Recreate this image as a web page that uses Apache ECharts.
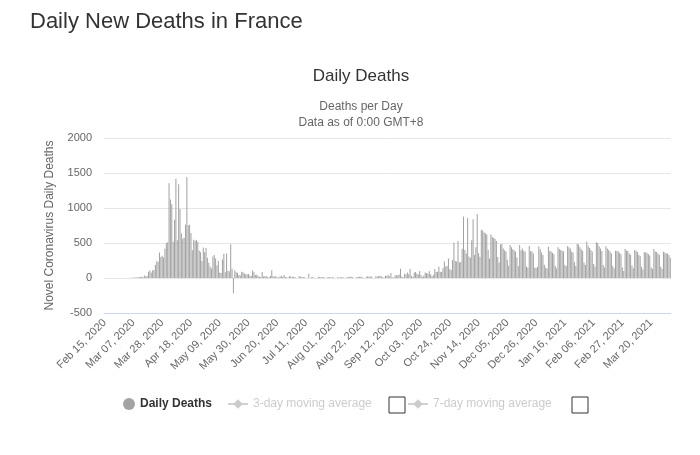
<!DOCTYPE html>
<html lang="en">
<head>
<meta charset="UTF-8">
<title>Daily New Deaths in France</title>
<style>
    html, body {
        margin: 0;
        padding: 0;
        background: #fff;
    }
    #chart {
        width: 700px;
        height: 455px;
    }
</style>
</head>
<body>
<div id="chart"></div>
<script src="https://cdn.jsdelivr.net/npm/echarts@6/dist/echarts.min.js"></script>
<script>
// daily deaths, one array per month (first day: Feb 15, 2020)
var feb2020 = [1, 0, 0, 0, 0, 0, 0, 0, 0, 0, 0, 1, 0, 0, 0];
var mar2020 = [0, 1, 1, 1, 2, 2, 2, 8, 6, 8, 15, 13, 18, 12, 36, 21, 27, 89, 108, 78,
    112, 112, 186, 240, 231, 365, 299, 319, 292, 418, 499];
var apr2020 = [509, 1355, 1120, 1053, 518, 833, 1417, 541, 1341, 987, 635, 561, 574, 762, 1438,
    753, 761, 642, 395, 547, 531, 544, 516, 389, 369, 242, 437, 367, 427, 289];
var may2020 = [218, 166, 135, 306, 330, 278, 178, 243, 80, 70, 263, 348, 83, 351, 104, 96,
    483, 131, -217, 110, 83, 74, 43, 35, 90, 83, 66, 52, 52, 57, 31];
var jun2020 = [31, 107, 81, 44, 46, 27, 13, 18, 87, 23, 28, 24, 13, 10, 29, 111, 28, 14, 28, 8,
    10, 23, 33, 14, 42, 14, 7, 8, 30, 22];
var jul2020 = [14, 18, 16, 0, 0, 27, 13, 18, 14, 11, 0, 0, 60, 0, 12, 15, 5, 0, 0, 19,
    14, 15, 11, 13, 0, 0, 16, 14, 6, 11, 12];
var aug2020 = [0, 0, 11, 7, 9, 10, 12, 0, 0, 13, 10, 17, 17, 12, 0, 0, 12, 17, 17, 19,
    16, 0, 0, 16, 25, 20, 18, 20, 0, 0, 26];
var sep2020 = [20, 25, 31, 25, 12, 8, 33, 30, 45, 20, 70, 10, 8, 35, 40, 38, 50, 133, 20, 12,
    60, 50, 78, 52, 130, 30, 15, 80, 85, 60];
var oct2020 = [50, 100, 42, 16, 36, 80, 70, 62, 100, 54, 25, 42, 130, 85, 90, 165, 90, 85, 140, 234,
    165, 170, 280, 130, 116, 257, 505, 244, 235, 530, 220];
var nov2020 = [231, 418, 877, 400, 350, 858, 306, 290, 540, 838, 330, 440, 915, 354, 302,
    690, 680, 650, 640, 620, 400, 280, 620, 590, 570, 560, 530, 300, 220, 480];
var dec2020 = [486, 420, 395, 378, 262, 174, 470, 440, 412, 398, 375, 292, 168, 470, 398, 420,
    388, 375, 164, 148, 457, 386, 378, 350, 150, 142, 160, 450, 410, 365, 330];
var jan2021 = [190, 150, 135, 445, 390, 380, 360, 340, 170, 140, 440, 415, 400, 390, 380, 190,
    172, 455, 440, 420, 380, 360, 225, 172, 490, 480, 440, 410, 390, 220, 185];
var feb2021 = [523, 460, 430, 400, 380, 200, 165, 510, 500, 455, 420, 385, 185, 150,
    455, 420, 400, 380, 350, 170, 140, 390, 385, 380, 360, 340, 150, 100];
var mar2021 = [415, 390, 385, 350, 330, 180, 140, 400, 390, 370, 330, 310, 160, 120, 370, 365,
    360, 340, 320, 150, 130, 415, 380, 370, 350, 330, 160, 130, 375, 365, 355];
var apr2021 = [350, 330, 290];

var dailyDeaths = [].concat(feb2020, mar2020, apr2020, may2020, jun2020, jul2020, aug2020,
    sep2020, oct2020, nov2020, dec2020, jan2021, feb2021, mar2021, apr2021);

var monthNames = ['Jan', 'Feb', 'Mar', 'Apr', 'May', 'Jun', 'Jul', 'Aug', 'Sep', 'Oct', 'Nov', 'Dec'];
var dates = [];
for (var i = 0; i < dailyDeaths.length; i++) {
    var d = new Date(2020, 1, 15 + i);
    var day = d.getDate() < 10 ? '0' + d.getDate() : '' + d.getDate();
    dates.push(monthNames[d.getMonth()] + ' ' + day + ', ' + d.getFullYear());
}

var hidden = {'3-day moving average': false, '7-day moving average': false};
var font = 'Liberation Sans, Arial, sans-serif';

var myChart = echarts.init(document.getElementById('chart'));
var options = {
    animation: false,
    textStyle: {fontFamily: font},
    title: [{
        text: 'Daily New Deaths in France',
        left: 25,
        top: 6,
        textStyle: {fontSize: 22, fontWeight: 'normal', color: '#333', fontFamily: font}
    }, {
        text: 'Daily Deaths',
        left: 356,
        textAlign: 'center',
        top: 63,
        textStyle: {fontSize: 17, fontWeight: 'normal', color: '#333', fontFamily: font}
    }, {
        text: 'Deaths per Day\nData as of 0:00 GMT+8',
        left: 356,
        textAlign: 'center',
        top: 94,
        textStyle: {fontSize: 12, fontWeight: 'normal', color: '#666', lineHeight: 16, fontFamily: font}
    }],
    legend: [{
        data: ['Daily Deaths'],
        left: 118,
        top: 393,
        icon: 'circle',
        itemWidth: 12,
        itemHeight: 12,
        itemGap: 5,
        selected: hidden,
        textStyle: {fontSize: 12, fontWeight: 'bold', color: '#333'}
    }, {
        data: ['3-day moving average'],
        left: 222,
        top: 393,
        itemWidth: 20,
        itemHeight: 12,
        selected: hidden,
        inactiveColor: '#ccc',
        textStyle: {fontSize: 12}
    }, {
        data: ['7-day moving average'],
        left: 402,
        top: 393,
        itemWidth: 20,
        itemHeight: 12,
        selected: hidden,
        inactiveColor: '#ccc',
        textStyle: {fontSize: 12}
    }],
    graphic: [{
        type: 'rect',
        shape: {x: 389, y: 397, width: 16, height: 16},
        style: {fill: '#fff', stroke: '#333', lineWidth: 1}
    }, {
        type: 'rect',
        shape: {x: 572, y: 397, width: 16, height: 16},
        style: {fill: '#fff', stroke: '#333', lineWidth: 1}
    }],
    grid: {
        left: 104,
        right: 29,
        top: 138,
        bottom: 142
    },
    xAxis: {
        type: 'category',
        data: dates,
        axisLine: {onZero: false, lineStyle: {color: '#ccd6eb'}},
        axisTick: {show: false},
        axisLabel: {
            interval: 20,
            rotate: 45,
            color: '#666',
            fontSize: 11,
            margin: 8
        }
    },
    yAxis: {
        type: 'value',
        min: -500,
        max: 2000,
        interval: 500,
        name: 'Novel Coronavirus Daily Deaths',
        nameLocation: 'middle',
        nameGap: 48,
        nameTextStyle: {color: '#666', fontSize: 12},
        axisLabel: {
            color: '#666',
            fontSize: 11,
            margin: 12,
            formatter: function (v) { return '' + v; }
        },
        splitLine: {lineStyle: {color: '#e6e6e6'}}
    },
    series: [{
        name: 'Daily Deaths',
        type: 'bar',
        barCategoryGap: '25%',
        itemStyle: {color: '#a3a3a3'},
        data: dailyDeaths
    }, {
        name: '3-day moving average',
        type: 'line',
        symbol: 'diamond',
        symbolSize: 8,
        itemStyle: {color: '#999'},
        data: []
    }, {
        name: '7-day moving average',
        type: 'line',
        symbol: 'diamond',
        symbolSize: 8,
        itemStyle: {color: '#999'},
        data: []
    }]
};
myChart.setOption(options);
</script>
</body>
</html>
